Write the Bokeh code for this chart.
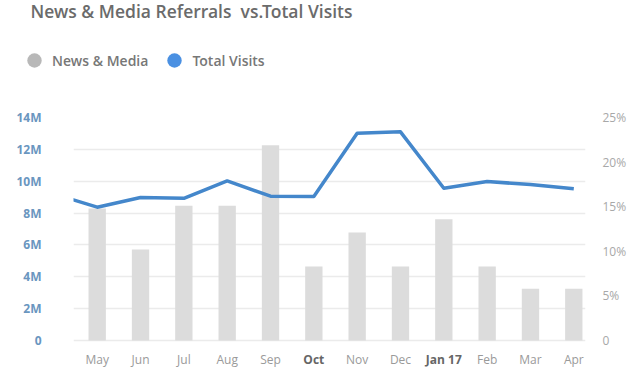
from bokeh.plotting import figure
from bokeh.layouts import column, row
from bokeh.models import (Range1d, LinearAxis, FixedTicker, Label, Legend, LegendItem)
from bokeh.core.properties import value
from bokeh.embed import file_html
from bokeh.resources import INLINE

# ---- data ----
months = ["May", "Jun", "Jul", "Aug", "Sep", "Oct", "Nov", "Dec", "Jan 17", "Feb", "Mar", "Apr"]
highlight = ["Oct", "Jan 17"]
news_media_pct = [14.8, 10.2, 15.1, 15.1, 21.9, 8.3, 12.1, 8.3, 13.6, 8.3, 5.8, 5.8]
total_visits_m = [8.37, 8.98, 8.93, 10.02, 9.06, 9.04, 13.01, 13.10, 9.56, 9.98, 9.79, 9.52]
prior_month_visits_m = 9.2  # Apr 16, partly visible at the left edge
left_ticks = [0, 2, 4, 6, 8, 10, 12, 14]
left_labels = ["0", "2M", "4M", "6M", "8M", "10M", "12M", "14M"]
right_ticks = [0, 5, 10, 15, 20, 25]
right_labels = ["0", "5%", "10%", "15%", "20%", "25%"]
title_text = "News & Media Referrals\u00a0 vs.Total Visits"
series_names = ["News & Media", "Total Visits"]

FONT = "Open Sans"
FONT_SEMI = "Open Sans SemiBold"
W = 640
H_HEAD = 100
H_MAIN = 272

BAR_COLOR = "#dcdcdc"
LINE_COLOR = "#4487cb"
NAN = float("nan")

# ---------------- header: title + legend ----------------
head = figure(width=W, height=H_HEAD, output_backend="svg", toolbar_location=None,
              x_range=Range1d(0, W), y_range=Range1d(H_HEAD, 0),
              x_axis_location=None, y_axis_location=None,
              min_border=0, background_fill_color="white", border_fill_color="white")
head.outline_line_color = None
head.xgrid.visible = False
head.ygrid.visible = False

head.add_layout(Label(x=30, y=10, text=title_text, text_align="left",
                      text_baseline="middle", text_font=FONT_SEMI, text_font_size="17.5px",
                      text_font_style="normal", text_color="#6b6b6b"))

g1 = head.scatter(x=[NAN], y=[NAN], marker="circle", fill_color="#b8b8b8", line_color=None)
g2 = head.scatter(x=[NAN], y=[NAN], marker="circle", fill_color="#4a90e2", line_color=None)
legend = Legend(items=[LegendItem(label=series_names[0], renderers=[g1]),
                       LegendItem(label=series_names[1], renderers=[g2])],
                orientation="horizontal", location=(16, 22),
                glyph_width=36, glyph_height=36, label_standoff=0, spacing=8,
                padding=0, margin=0, border_line_color=None, background_fill_alpha=0,
                label_text_font=FONT_SEMI, label_text_font_size="14px",
                label_text_font_style="normal", label_text_color="#777777")
head.add_layout(legend, "center")

# ---------------- main chart ----------------
PX_PER_M = 223 / 14
PX_PER_PCT = 223 / 25
BOTTOM_PAD = 32

p = figure(width=W, height=H_MAIN, output_backend="svg", toolbar_location=None,
           x_range=Range1d(-0.547, 11.27),
           y_range=Range1d(-BOTTOM_PAD / PX_PER_M, 14),
           x_axis_location=None, y_axis_location=None,
           min_border_left=73, min_border_right=55, min_border_top=17, min_border_bottom=0,
           background_fill_color="white", border_fill_color="white")
p.outline_line_color = None
p.extra_y_ranges = {"pct": Range1d(-BOTTOM_PAD / PX_PER_PCT, 25)}

xs = list(range(len(months)))

p.xgrid.visible = False
p.ygrid.ticker = FixedTicker(ticks=left_ticks)
p.ygrid.grid_line_color = "#ebebeb"
p.ygrid.grid_line_width = 1.5

la = LinearAxis(ticker=FixedTicker(ticks=left_ticks),
                major_label_overrides={t: l for t, l in zip(left_ticks, left_labels)})
la.axis_line_color = None
la.major_tick_line_color = None
la.minor_tick_line_color = None
la.major_label_standoff = 26
la.major_label_text_font = FONT
la.major_label_text_font_style = "bold"
la.major_label_text_font_size = "12px"
la.major_label_text_color = "#6a96bf"
p.add_layout(la, "left")

ra = LinearAxis(y_range_name="pct", ticker=FixedTicker(ticks=right_ticks),
                major_label_overrides={t: l for t, l in zip(right_ticks, right_labels)})
ra.axis_line_color = None
ra.major_tick_line_color = None
ra.minor_tick_line_color = None
ra.major_label_standoff = 11
ra.major_label_text_font = FONT
ra.major_label_text_font_size = "12px"
ra.major_label_text_color = "#a8a8a8"
p.add_layout(ra, "right")

p.vbar(x=xs, top=news_media_pct, bottom=0, width=0.4, y_range_name="pct",
       fill_color=BAR_COLOR, line_color=None)
p.line(x=[-1] + xs, y=[prior_month_visits_m] + total_visits_m,
       line_color=LINE_COLOR, line_width=3.5, line_join="round")

# month labels (category axis)
styles = ["bold" if m in highlight else "normal" for m in months]
colors = ["#666666" if m in highlight else "#9a9a9a" for m in months]
p.text(x=xs, y=[0] * len(xs), text=months, y_offset=19,
       text_align="center", text_baseline="middle",
       text_font=value(FONT), text_font_size=value("12px"),
       text_font_style=styles, text_color=colors)

layout = column(row(head), p, spacing=0)
open("out.html", "w").write(file_html(layout, INLINE))
